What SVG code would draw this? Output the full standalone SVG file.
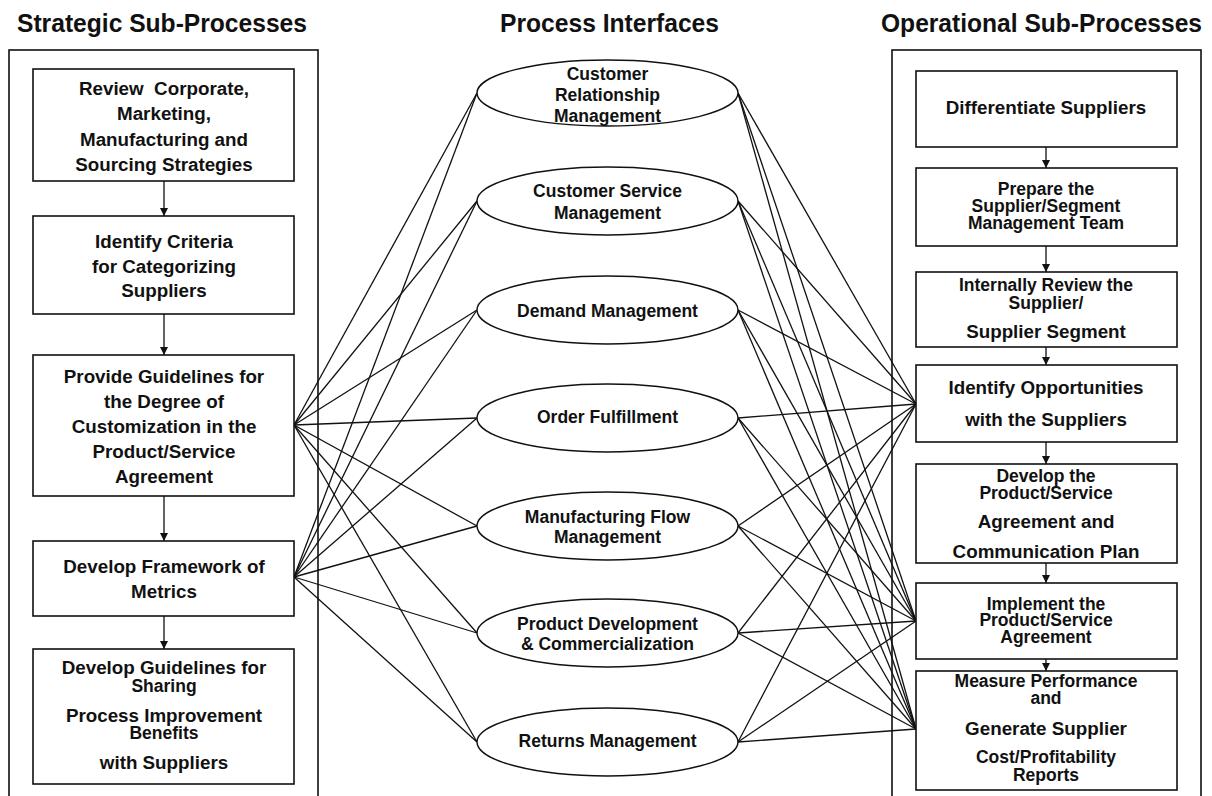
<svg xmlns="http://www.w3.org/2000/svg" width="1212" height="796" viewBox="0 0 1212 796">
<style>
.hdr{font-family:"Liberation Sans",Arial,sans-serif;font-weight:bold;font-size:25px;fill:#111;text-anchor:middle}
.bx{fill:#fff;stroke:#111;stroke-width:1.6}
.fr{fill:none;stroke:#111;stroke-width:1.6}
.t{font-family:"Liberation Sans",Arial,sans-serif;font-weight:bold;font-size:18.8px;fill:#111;text-anchor:middle;white-space:pre}
.tt{font-size:17.5px}
.et{font-family:"Liberation Sans",Arial,sans-serif;font-weight:bold;font-size:17.5px;fill:#111;text-anchor:middle}
.el{fill:#fff;stroke:#111;stroke-width:1.4}
.c line{stroke:#111;stroke-width:1.3}
.ar{stroke:#111;stroke-width:1.4;marker-end:url(#ah)}
</style>
<defs>
<marker id="ah" viewBox="0 0 10 10" refX="10" refY="5" markerWidth="8" markerHeight="8" markerUnits="userSpaceOnUse" orient="auto">
<path d="M0,0 L10,5 L0,10 z" fill="#111"/>
</marker>
</defs>
<rect width="1212" height="796" fill="#fff"/>

<text class="hdr" x="162" y="32" textLength="290" lengthAdjust="spacingAndGlyphs">Strategic Sub-Processes</text>
<text class="hdr" x="609.5" y="32" textLength="219" lengthAdjust="spacingAndGlyphs">Process Interfaces</text>
<text class="hdr" x="1041.5" y="32" textLength="321" lengthAdjust="spacingAndGlyphs">Operational Sub-Processes</text>

<rect class="fr" x="9" y="50" width="309" height="760"/>
<rect class="fr" x="892" y="50" width="309" height="760"/>

<g id="connectors" class="c">
<line x1="294" y1="425" x2="477" y2="93"/>
<line x1="294" y1="425" x2="477" y2="201"/>
<line x1="294" y1="425" x2="477" y2="310"/>
<line x1="294" y1="425" x2="477" y2="418"/>
<line x1="294" y1="425" x2="477" y2="526"/>
<line x1="294" y1="425" x2="477" y2="633"/>
<line x1="294" y1="425" x2="477" y2="742"/>
<line x1="294" y1="577" x2="477" y2="93"/>
<line x1="294" y1="577" x2="477" y2="201"/>
<line x1="294" y1="577" x2="477" y2="310"/>
<line x1="294" y1="577" x2="477" y2="418"/>
<line x1="294" y1="577" x2="477" y2="526"/>
<line x1="294" y1="577" x2="477" y2="633"/>
<line x1="294" y1="577" x2="477" y2="742"/>
<line x1="738" y1="93" x2="916" y2="404"/>
<line x1="738" y1="93" x2="916" y2="621"/>
<line x1="738" y1="93" x2="916" y2="729"/>
<line x1="738" y1="201" x2="916" y2="404"/>
<line x1="738" y1="201" x2="916" y2="621"/>
<line x1="738" y1="201" x2="916" y2="729"/>
<line x1="738" y1="310" x2="916" y2="404"/>
<line x1="738" y1="310" x2="916" y2="621"/>
<line x1="738" y1="310" x2="916" y2="729"/>
<line x1="738" y1="418" x2="916" y2="404"/>
<line x1="738" y1="418" x2="916" y2="621"/>
<line x1="738" y1="418" x2="916" y2="729"/>
<line x1="738" y1="526" x2="916" y2="404"/>
<line x1="738" y1="526" x2="916" y2="621"/>
<line x1="738" y1="526" x2="916" y2="729"/>
<line x1="738" y1="633" x2="916" y2="404"/>
<line x1="738" y1="633" x2="916" y2="621"/>
<line x1="738" y1="633" x2="916" y2="729"/>
<line x1="738" y1="742" x2="916" y2="404"/>
<line x1="738" y1="742" x2="916" y2="621"/>
<line x1="738" y1="742" x2="916" y2="729"/>
<line class="ar" x1="164" y1="181" x2="164" y2="216"/>
<line class="ar" x1="164" y1="314" x2="164" y2="355"/>
<line class="ar" x1="164" y1="496" x2="164" y2="541"/>
<line class="ar" x1="164" y1="616" x2="164" y2="649"/>
<line class="ar" x1="1046" y1="147" x2="1046" y2="168"/>
<line class="ar" x1="1046" y1="246" x2="1046" y2="272"/>
<line class="ar" x1="1046" y1="347" x2="1046" y2="365"/>
<line class="ar" x1="1046" y1="442" x2="1046" y2="464"/>
<line class="ar" x1="1046" y1="563" x2="1046" y2="583"/>
<line class="ar" x1="1046" y1="659" x2="1046" y2="671"/>
</g>

<g id="s1"><rect class="bx" x="33" y="69" width="261" height="112"/>
<text class="t" x="164" y="95">Review  Corporate,</text>
<text class="t" x="164" y="120">Marketing,</text>
<text class="t" x="164" y="146">Manufacturing and</text>
<text class="t" x="164" y="171">Sourcing Strategies</text></g>

<g id="s2"><rect class="bx" x="33" y="216" width="261" height="98"/>
<text class="t" x="164" y="248">Identify Criteria</text>
<text class="t" x="164" y="273">for Categorizing</text>
<text class="t" x="164" y="297">Suppliers</text></g>

<g id="s3"><rect class="bx" x="33" y="355" width="261" height="141"/>
<text class="t" x="164" y="383">Provide Guidelines for</text>
<text class="t" x="164" y="408">the Degree of</text>
<text class="t" x="164" y="433">Customization in the</text>
<text class="t" x="164" y="458">Product/Service</text>
<text class="t" x="164" y="483">Agreement</text></g>

<g id="s4"><rect class="bx" x="33" y="541" width="261" height="75"/>
<text class="t" x="164" y="573">Develop Framework of</text>
<text class="t" x="164" y="598">Metrics</text></g>

<g id="s5"><rect class="bx" x="33" y="649" width="261" height="135"/>
<text class="t" x="164" y="674">Develop Guidelines for</text>
<text class="t tt" x="164" y="692">Sharing</text>
<text class="t" x="164" y="722">Process Improvement</text>
<text class="t tt" x="164" y="739">Benefits</text>
<text class="t" x="164" y="769">with Suppliers</text></g>

<g id="p1"><ellipse class="el" cx="607.5" cy="93" rx="130.5" ry="33"/>
<text class="et" x="607.5" y="80">Customer</text>
<text class="et" x="607.5" y="101">Relationship</text>
<text class="et" x="607.5" y="122">Management</text></g>

<g id="p2"><ellipse class="el" cx="607.5" cy="201" rx="130.5" ry="34"/>
<text class="et" x="607.5" y="197">Customer Service</text>
<text class="et" x="607.5" y="219">Management</text></g>

<g id="p3"><ellipse class="el" cx="607.5" cy="310" rx="130.5" ry="34"/>
<text class="et" x="607.5" y="317">Demand Management</text></g>

<g id="p4"><ellipse class="el" cx="607.5" cy="418" rx="130.5" ry="34"/>
<text class="et" x="607.5" y="423">Order Fulfillment</text></g>

<g id="p5"><ellipse class="el" cx="607.5" cy="526" rx="130.5" ry="34"/>
<text class="et" x="607.5" y="523">Manufacturing Flow</text>
<text class="et" x="607.5" y="543">Management</text></g>

<g id="p6"><ellipse class="el" cx="607.5" cy="633" rx="130.5" ry="34"/>
<text class="et" x="607.5" y="630">Product Development</text>
<text class="et" x="607.5" y="650">&amp; Commercialization</text></g>

<g id="p7"><ellipse class="el" cx="607.5" cy="742" rx="130.5" ry="34"/>
<text class="et" x="607.5" y="747">Returns Management</text></g>

<g id="o1"><rect class="bx" x="916" y="71" width="261" height="76"/>
<text class="t" x="1046" y="114">Differentiate Suppliers</text></g>

<g id="o2"><rect class="bx" x="916" y="168" width="261" height="78"/>
<text class="t tt" x="1046" y="195">Prepare the</text>
<text class="t tt" x="1046" y="212">Supplier/Segment</text>
<text class="t tt" x="1046" y="229">Management Team</text></g>

<g id="o3"><rect class="bx" x="916" y="272" width="261" height="75"/>
<text class="t tt" x="1046" y="291">Internally Review the</text>
<text class="t tt" x="1046" y="309">Supplier/</text>
<text class="t" x="1046" y="338">Supplier Segment</text></g>

<g id="o4"><rect class="bx" x="916" y="365" width="261" height="77"/>
<text class="t" x="1046" y="394">Identify Opportunities</text>
<text class="t" x="1046" y="426">with the Suppliers</text></g>

<g id="o5"><rect class="bx" x="916" y="464" width="261" height="99"/>
<text class="t tt" x="1046" y="482">Develop the</text>
<text class="t tt" x="1046" y="499">Product/Service</text>
<text class="t" x="1046" y="528">Agreement and</text>
<text class="t" x="1046" y="558">Communication Plan</text></g>

<g id="o6"><rect class="bx" x="916" y="583" width="261" height="76"/>
<text class="t tt" x="1046" y="610">Implement the</text>
<text class="t tt" x="1046" y="626">Product/Service</text>
<text class="t tt" x="1046" y="643">Agreement</text></g>

<g id="o7"><rect class="bx" x="916" y="671" width="261" height="119"/>
<text class="t tt" x="1046" y="687">Measure Performance</text>
<text class="t tt" x="1046" y="704">and</text>
<text class="t" x="1046" y="735">Generate Supplier</text>
<text class="t tt" x="1046" y="763">Cost/Profitability</text>
<text class="t tt" x="1046" y="781">Reports</text></g>
</svg>
